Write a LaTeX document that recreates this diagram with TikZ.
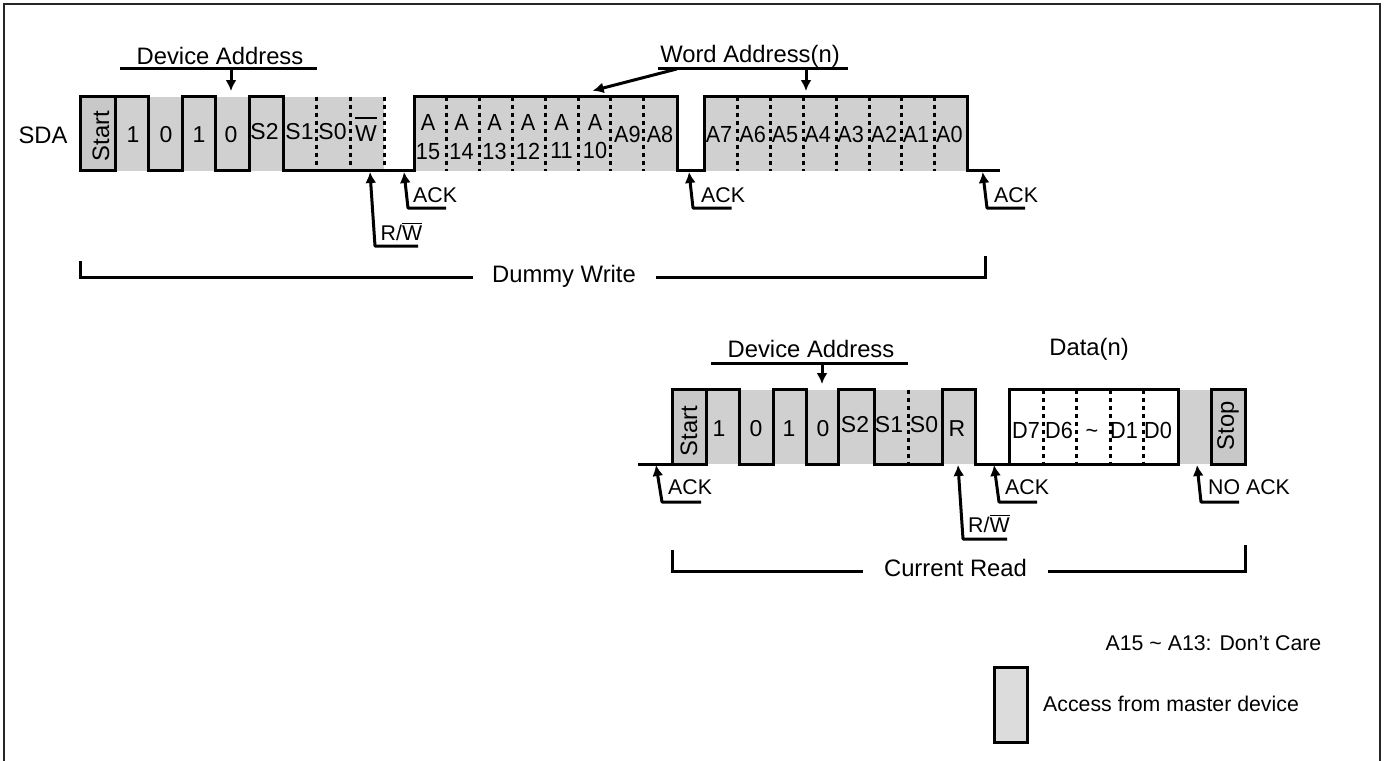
\documentclass[tikz,border=0pt]{standalone}
\usepackage{fontspec}
\setmainfont{Liberation Sans}
\newfontfamily\adrfont[FakeStretch=0.93]{Liberation Sans}
\usetikzlibrary{arrows.meta}
\definecolor{cellgray}{HTML}{D0D0D0}
\definecolor{edgegray}{HTML}{C8C8C8}
\definecolor{keygray}{HTML}{DCDCDC}
\newcommand{\barW}[1]{\vbox{\hrule height 1.3pt \kern #1 \hbox{W}}}
\begin{document}
\begin{tikzpicture}[x=1pt,y=-1pt,
    lbl/.style={inner sep=0pt,text height=16.5pt,text depth=0pt,font=\fontsize{23}{24}\selectfont},
    adr/.style={inner sep=0pt,text height=16.5pt,text depth=0pt,font=\adrfont\fontsize{23.3}{24}\selectfont},
    note/.style={inner sep=0pt,font=\fontsize{21.3}{24}\selectfont},
    head/.style={inner sep=0pt,font=\fontsize{23.8}{26}\selectfont},
    wave/.style={line width=3pt,line join=miter},
    tick/.style={line width=3pt,dash pattern=on 4pt off 4pt},
    pointer/.style={line width=3pt,line join=round,-{Latex[length=11pt,width=11pt]}},
    brace/.style={line width=3pt,line join=miter},
    ]
    \useasboundingbox (0,0) rectangle (1386,760);
    \draw[line width=2.5pt,color=black!85] (4,762) -- (4,4) -- (1380,4) -- (1380,762);
    % top row
    \def\ta{96.5}
    \def\ba{170.5}
    \fill[cellgray] (115,\ta) rectangle (384,\ba);
    \fill[cellgray] (414,\ta) rectangle (677,\ba);
    \fill[cellgray] (704,\ta) rectangle (967,\ba);
    \draw[wave,fill=edgegray] (80,\ta) rectangle (115,\ba);
    \draw[tick] (316.5,\ta) -- (316.5,\ba);
    \draw[tick] (350.5,\ta) -- (350.5,\ba);
    \draw[tick] (384,\ta) -- (384,\ba);
    \draw[tick] (446.7,\ta) -- (446.7,\ba);
    \draw[tick] (479.5,\ta) -- (479.5,\ba);
    \draw[tick] (512.3,\ta) -- (512.3,\ba);
    \draw[tick] (545,\ta) -- (545,\ba);
    \draw[tick] (578,\ta) -- (578,\ba);
    \draw[tick] (610.7,\ta) -- (610.7,\ba);
    \draw[tick] (643.7,\ta) -- (643.7,\ba);
    \draw[tick] (737.7,\ta) -- (737.7,\ba);
    \draw[tick] (770.5,\ta) -- (770.5,\ba);
    \draw[tick] (803.3,\ta) -- (803.3,\ba);
    \draw[tick] (836,\ta) -- (836,\ba);
    \draw[tick] (869,\ta) -- (869,\ba);
    \draw[tick] (901.7,\ta) -- (901.7,\ba);
    \draw[tick] (934.7,\ta) -- (934.7,\ba);
    \draw[wave] (115,\ta) -- (148,\ta) -- (148,\ba) -- (182,\ba) -- (182,\ta) -- (215,\ta) -- (215,\ba)
      -- (249,\ba) -- (249,\ta) -- (283,\ta) -- (283,\ba) -- (414,\ba) -- (414,\ta) -- (677,\ta)
      -- (677,\ba) -- (704,\ba) -- (704,\ta) -- (967,\ta) -- (967,\ba) -- (1000,\ba);
    \node[head] (sda) at (43,135) {SDA};
    \node[head,rotate=90] (starta) at (101,136) {Start};
    \node[lbl] (bita) at (133,134) {1};
    \node[lbl] (bitb) at (166,134) {0};
    \node[lbl] (bitc) at (199,134) {1};
    \node[lbl] (bitd) at (231,134) {0};
    \node[lbl] (sca) at (264.5,131) {S2};
    \node[lbl] (scb) at (299.5,131) {S1};
    \node[lbl] (scc) at (332.5,131) {S0};
    \node[inner sep=0pt,font=\fontsize{23}{24}\selectfont,anchor=base] (wra) at (366,141.5) {\barW{7pt}};
    % word address, high byte
    \node[adr] (aax) at (428,122.7) {A};
    \node[adr] (aay) at (428,151) {15};
    \node[adr] (abx) at (461.5,122.7) {A};
    \node[adr] (aby) at (461.5,151) {14};
    \node[adr] (acx) at (494.5,122.7) {A};
    \node[adr] (acy) at (494.5,151) {13};
    \node[adr] (adx) at (528,122.7) {A};
    \node[adr] (ady) at (528,151) {12};
    \node[adr] (aex) at (561.5,122.7) {A};
    \node[adr] (aey) at (561.5,150) {11};
    \node[adr] (afx) at (595,122.7) {A};
    \node[adr] (afy) at (595,150) {10};
    \node[adr] (ag) at (627.3,134) {A9};
    \node[adr] (ah) at (660,134) {A8};
    % word address, low byte
    \node[adr] (al) at (719,134) {A7};
    \node[adr] (am) at (752.7,134) {A6};
    \node[adr] (an) at (785,134) {A5};
    \node[adr] (ao) at (817.7,134) {A4};
    \node[adr] (ap) at (850.7,134) {A3};
    \node[adr] (aq) at (884,134) {A2};
    \node[adr] (ar) at (916,134) {A1};
    \node[adr] (as) at (949.3,134) {A0};
    % titles over the top row
    \node[head] (dva) at (220,56) {Device Address};
    \coordinate (dvaL) at (120,69);
    \coordinate (dvaR) at (317,69);
    \coordinate (dvaM) at (231,69);
    \coordinate (dvaT) at (231,91);
    \draw[brace] (dvaL) -- (dvaR);
    \draw[pointer] (dvaM) -- (dvaT);
    \node[head] (wad) at (750,56) {Word Address(n)};
    \coordinate (wadL) at (657.5,69);
    \coordinate (wadR) at (848,69);
    \coordinate (wadM) at (806,69);
    \coordinate (wadT) at (806,91);
    \coordinate (wadS) at (676.7,69);
    \coordinate (wadU) at (592.7,90.7);
    \draw[brace] (wadL) -- (wadR);
    \draw[pointer] (wadM) -- (wadT);
    \draw[pointer] (wadS) -- (wadU);
    % acknowledge marks, top row
    \node[note,anchor=west] (rwa) at (380.5,232) {R/\barW{1.5pt}};
    \coordinate (rwaE) at (418,246);
    \coordinate (rwaC) at (375,246);
    \coordinate (rwaT) at (370,172);
    \draw[pointer] (rwaE) -- (rwaC) -- (rwaT);
    \node[note,anchor=west] (acka) at (413,195) {ACK};
    \coordinate (ackaE) at (446,208);
    \coordinate (ackaC) at (408,208);
    \coordinate (ackaT) at (404,172);
    \draw[pointer] (ackaE) -- (ackaC) -- (ackaT);
    \node[note,anchor=west] (ackb) at (701,195) {ACK};
    \coordinate (ackbE) at (731.7,208);
    \coordinate (ackbC) at (693,208);
    \coordinate (ackbT) at (689,172);
    \draw[pointer] (ackbE) -- (ackbC) -- (ackbT);
    \node[note,anchor=west] (ackc) at (994,195) {ACK};
    \coordinate (ackcE) at (1025,208);
    \coordinate (ackcC) at (987,208);
    \coordinate (ackcT) at (982.7,172);
    \draw[pointer] (ackcE) -- (ackcC) -- (ackcT);
    % dummy write span
    \node[head] (dum) at (564,276) {Dummy Write};
    \coordinate (dumA) at (80,261);
    \coordinate (dumB) at (80,277.5);
    \coordinate (dumC) at (473,277.5);
    \coordinate (dumD) at (656,277.5);
    \coordinate (dumE) at (985,277.5);
    \coordinate (dumF) at (985,256);
    \draw[brace] (dumA) -- (dumB) -- (dumC);
    \draw[brace] (dumD) -- (dumE) -- (dumF);
    % bottom row
    \def\tb{389.5}
    \def\bb{464}
    \fill[cellgray] (706,\tb) rectangle (975,\bb);
    \fill[cellgray] (1178,\tb) rectangle (1211,\bb);
    \draw[wave,fill=edgegray] (672,\tb) rectangle (706,\bb);
    \draw[wave,fill=edgegray] (1211,\tb) rectangle (1245,\bb);
    \draw[tick] (908,\tb) -- (908,\bb);
    \draw[tick] (1043,\tb) -- (1043,\bb);
    \draw[tick] (1076.5,\tb) -- (1076.5,\bb);
    \draw[tick] (1110,\tb) -- (1110,\bb);
    \draw[tick] (1143.5,\tb) -- (1143.5,\bb);
    \draw[wave] (638,\bb) -- (672,\bb);
    \draw[wave] (706,\tb) -- (739,\tb) -- (739,\bb) -- (773,\bb) -- (773,\tb) -- (806,\tb) -- (806,\bb)
      -- (838,\bb) -- (838,\tb) -- (874,\tb) -- (874,\bb) -- (942,\bb) -- (942,\tb) -- (975,\tb)
      -- (975,\bb) -- (1009,\bb) -- (1009,\tb) -- (1178,\tb) -- (1178,\bb) -- (1009,\bb);
    \node[head,rotate=90] (startb) at (689,431) {Start};
    \node[lbl] (bite) at (719,428) {1};
    \node[lbl] (bitf) at (756,428) {0};
    \node[lbl] (bitg) at (789,428) {1};
    \node[lbl] (bith) at (823,428) {0};
    \node[lbl] (sda2) at (855,424.5) {S2};
    \node[lbl] (sdb2) at (889,424.5) {S1};
    \node[lbl] (sdc2) at (924,424.5) {S0};
    \node[lbl] (rda) at (957,428) {R};
    \node[adr] (dsa) at (1026,430) {D7};
    \node[adr] (dsb) at (1059,430) {D6};
    \node[adr] (dsc) at (1092,430) {\textasciitilde};
    \node[adr] (dsd) at (1124,430) {D1};
    \node[adr] (dse) at (1158,430) {D0};
    \node[head,rotate=90] (stop) at (1228,426) {Stop};
    % titles over the bottom row
    \node[head] (dvb) at (811,349) {Device Address};
    \coordinate (dvbL) at (711,363);
    \coordinate (dvbR) at (908,363);
    \coordinate (dvbM) at (822,363);
    \coordinate (dvbT) at (822,384);
    \draw[brace] (dvbL) -- (dvbR);
    \draw[pointer] (dvbM) -- (dvbT);
    \node[head] (dat) at (1089,349) {Data(n)};
    % acknowledge marks, bottom row
    \node[note,anchor=west] (ackd) at (668,487) {ACK};
    \coordinate (ackdE) at (701,502);
    \coordinate (ackdC) at (662,502);
    \coordinate (ackdT) at (656,465);
    \draw[pointer] (ackdE) -- (ackdC) -- (ackdT);
    \node[note,anchor=west] (rwb) at (968,524) {R/\barW{1.5pt}};
    \coordinate (rwbE) at (1007,539);
    \coordinate (rwbC) at (963,539);
    \coordinate (rwbT) at (958,465);
    \draw[pointer] (rwbE) -- (rwbC) -- (rwbT);
    \node[note,anchor=west] (acke) at (1005,487) {ACK};
    \coordinate (ackeE) at (1037,502);
    \coordinate (ackeC) at (999,502);
    \coordinate (ackeT) at (994,465);
    \draw[pointer] (ackeE) -- (ackeC) -- (ackeT);
    \node[note,anchor=west] (nak) at (1208,487) {NO ACK};
    \coordinate (nakE) at (1239,502);
    \coordinate (nakC) at (1201,502);
    \coordinate (nakT) at (1197,465);
    \draw[pointer] (nakE) -- (nakC) -- (nakT);
    % current read span
    \node[head] (cur) at (955.5,568) {Current Read};
    \coordinate (curA) at (672,550);
    \coordinate (curB) at (672,571);
    \coordinate (curC) at (863,571);
    \coordinate (curD) at (1048,571);
    \coordinate (curE) at (1245,571);
    \coordinate (curF) at (1245,545);
    \draw[brace] (curA) -- (curB) -- (curC);
    \draw[brace] (curD) -- (curE) -- (curF);
    % key
    \node[note] (dnc) at (1213.5,643) {A15 \textasciitilde{} A13: Don’t Care};
    \draw[wave,fill=keygray] (994,667.5) rectangle (1027,742.5);
    \node[note,anchor=west] (key) at (1043,704) {Access from master device};
\end{tikzpicture}
\end{document}
